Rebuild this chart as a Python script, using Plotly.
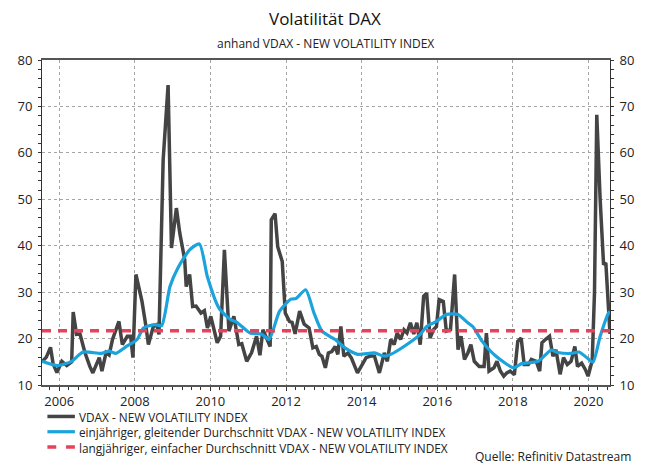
import plotly.graph_objects as go

# ---------------- data ----------------
vdax_t = [2005.545, 2005.66, 2005.77, 2005.84, 2005.94, 2006.07, 2006.20, 2006.33, 2006.37, 2006.46,
          2006.55, 2006.68, 2006.81, 2006.89, 2007.06, 2007.13, 2007.24, 2007.32, 2007.41, 2007.58,
          2007.67, 2007.80, 2007.89, 2007.95, 2008.03, 2008.15, 2008.19, 2008.28, 2008.36, 2008.49,
          2008.58, 2008.64, 2008.75, 2008.88, 2008.97, 2009.10, 2009.19, 2009.32, 2009.36, 2009.45,
          2009.53, 2009.62, 2009.75, 2009.84, 2009.92, 2010.01, 2010.10, 2010.18, 2010.27, 2010.37,
          2010.49, 2010.62, 2010.75, 2010.83, 2010.96, 2011.09, 2011.22, 2011.31, 2011.39, 2011.48,
          2011.58, 2011.61, 2011.71, 2011.78, 2011.90, 2011.98, 2012.09, 2012.16, 2012.24, 2012.36,
          2012.48, 2012.61, 2012.71, 2012.80, 2012.88, 2012.95, 2013.04, 2013.12, 2013.21, 2013.30,
          2013.37, 2013.45, 2013.53, 2013.64, 2013.73, 2013.89, 2013.99, 2014.12, 2014.25, 2014.34,
          2014.47, 2014.60, 2014.68, 2014.77, 2014.86, 2014.94, 2015.03, 2015.12, 2015.20, 2015.29,
          2015.38, 2015.46, 2015.55, 2015.64, 2015.72, 2015.81, 2015.90, 2015.98, 2016.05, 2016.16,
          2016.24, 2016.35, 2016.46, 2016.55, 2016.63, 2016.72, 2016.81, 2016.89, 2016.98, 2017.11,
          2017.24, 2017.30, 2017.37, 2017.50, 2017.58, 2017.67, 2017.76, 2017.84, 2017.93, 2018.04,
          2018.13, 2018.22, 2018.30, 2018.41, 2018.49, 2018.62, 2018.71, 2018.77, 2018.86, 2018.97,
          2019.06, 2019.14, 2019.25, 2019.34, 2019.44, 2019.54, 2019.64, 2019.71, 2019.82, 2019.92,
          2019.99, 2020.10, 2020.16, 2020.22, 2020.31, 2020.40, 2020.46, 2020.53, 2020.57]
vdax_v = [15.0, 16.0, 18.1, 14.5, 12.7, 15.1, 14.2, 15.0, 25.7, 20.9,
          21.0, 17.0, 14.0, 12.6, 15.9, 13.0, 17.0, 16.5, 19.8, 23.7,
          18.7, 20.5, 20.5, 15.9, 33.8, 29.1, 28.0, 23.4, 18.7, 22.6,
          23.0, 20.9, 58.5, 74.6, 39.5, 48.1, 42.7, 37.0, 31.2, 33.8,
          26.9, 27.0, 25.5, 26.0, 22.3, 24.8, 22.0, 19.1, 20.5, 39.1,
          21.6, 24.8, 18.7, 18.9, 15.1, 17.0, 20.5, 16.4, 21.9, 20.0,
          18.3, 45.6, 46.9, 39.8, 36.6, 25.5, 23.7, 23.5, 21.0, 25.9,
          23.1, 22.3, 18.0, 18.3, 16.6, 16.2, 13.7, 16.9, 17.2, 18.3,
          16.6, 22.6, 16.2, 16.9, 15.8, 12.6, 13.9, 15.9, 16.3, 16.2,
          12.6, 16.9, 15.1, 19.8, 18.7, 21.2, 19.8, 21.9, 21.2, 23.4,
          21.0, 23.4, 18.7, 29.1, 29.8, 20.1, 21.9, 22.6, 28.4, 28.0,
          21.6, 21.9, 33.8, 17.6, 20.5, 15.5, 16.9, 18.7, 15.1, 14.0,
          14.0, 21.2, 13.0, 13.7, 15.1, 13.0, 11.9, 12.6, 13.0, 12.2,
          19.4, 20.1, 14.4, 14.4, 15.5, 15.1, 13.0, 19.1, 19.8, 20.5,
          16.2, 17.6, 12.3, 15.9, 14.4, 15.1, 18.3, 14.0, 14.7, 13.3,
          11.9, 15.3, 30.0, 68.2, 49.9, 35.9, 36.3, 26.2, 21.0]

ma_t = [2005.545, 2005.94, 2006.33, 2006.63, 2007.11, 2007.32, 2007.50, 2007.76, 2008.06, 2008.23,
        2008.54, 2008.71, 2008.93, 2009.14, 2009.45, 2009.71, 2009.92, 2010.23, 2010.53, 2010.70,
        2011.05, 2011.35, 2011.55, 2011.83, 2012.13, 2012.26, 2012.52, 2012.74, 2012.95, 2013.30,
        2013.56, 2013.90, 2014.34, 2014.60, 2014.77, 2015.12, 2015.55, 2015.72, 2015.98, 2016.24,
        2016.55, 2016.81, 2016.94, 2017.19, 2017.54, 2018.02, 2018.23, 2018.67, 2019.01, 2019.19,
        2019.54, 2019.75, 2019.97, 2020.12, 2020.31, 2020.53, 2020.57]
ma_v = [15.1, 14.2, 15.1, 17.1, 16.8, 17.3, 16.8, 18.2, 19.8, 22.3,
        23.0, 22.8, 31.2, 35.2, 39.1, 40.4, 33.3, 26.5, 24.1, 23.5,
        21.2, 21.0, 19.8, 25.9, 28.5, 28.6, 30.5, 25.5, 21.6, 19.8,
        18.0, 16.6, 16.9, 16.2, 16.6, 18.3, 20.9, 22.6, 23.7, 25.2,
        25.2, 23.4, 22.6, 19.4, 16.3, 13.7, 14.6, 15.1, 17.5, 17.0,
        16.8, 17.1, 15.8, 14.9, 20.5, 25.5, 25.8]

longrun_avg = 21.7
x_start, x_end = 2005.545, 2020.57

year_ticks = [2006, 2008, 2010, 2012, 2014, 2016, 2018, 2020]
y_ticks = [10, 20, 30, 40, 50, 60, 70, 80]

names = ["VDAX - NEW VOLATILITY INDEX",
         "einjähriger, gleitender Durchschnitt VDAX - NEW VOLATILITY INDEX",
         "langjähriger, einfacher Durchschnitt VDAX - NEW VOLATILITY INDEX"]

# ---------------- styling ----------------
C_VDAX = "#444444"
C_MA = "#1ba3dd"
C_AVG = "#e4435b"
FONT = "Open Sans"

W, H = 646, 468
L, R, T, B = 41.5, 620, 60, 385.5


def px(x):
    return (x - L) / (R - L)


def py(y):
    return (B - y) / (B - T)


fig = go.Figure()
fig.add_trace(go.Scatter(x=vdax_t, y=vdax_v, mode="lines", name=names[0],
                         line=dict(color=C_VDAX, width=3.5), showlegend=False))
fig.add_trace(go.Scatter(x=ma_t, y=ma_v, mode="lines", name=names[1],
                         line=dict(color=C_MA, width=3.2, shape="spline", smoothing=0.6),
                         showlegend=False))
fig.add_trace(go.Scatter(x=[x_start, x_end], y=[longrun_avg, longrun_avg], mode="lines",
                         name=names[2], yaxis="y2",
                         line=dict(color=C_AVG, width=3.5, dash="9px,7px"), showlegend=False))

axis_font = dict(family=FONT, size=13, color="#222222")

fig.update_layout(
    width=W, height=H,
    margin=dict(l=L, r=W - R, t=T, b=H - B, pad=0),
    paper_bgcolor="white", plot_bgcolor="white",
    font=dict(family=FONT, color="#222222"),
    xaxis=dict(range=[x_start, x_end], tickvals=year_ticks, ticktext=[str(v) for v in year_ticks],
               ticks="outside", ticklen=4, tickcolor="#333333", tickfont=axis_font,
               showgrid=True, gridcolor="#a5a5a5", griddash="dot", gridwidth=1,
               showline=True, linecolor="#555555", linewidth=1.5, mirror=True,
               minor=dict(dtick=0.25, tick0=2006, ticks="outside", ticklen=3, tickcolor="#333333",
                          showgrid=False),
               zeroline=False),
    yaxis=dict(range=[10, 80], tickvals=y_ticks, ticks="outside", ticklen=3, tickcolor="#333333",
               tickfont=axis_font, showgrid=True, gridcolor="#a5a5a5", griddash="dot",
               showline=True, linecolor="#333333", linewidth=1, zeroline=False,
               minor=dict(dtick=2, ticks="outside", ticklen=3, tickcolor="#333333", showgrid=False),
               ticklabelstandoff=3),
    yaxis2=dict(range=[10, 80], tickvals=y_ticks, overlaying="y", side="right",
                ticks="outside", ticklen=3, tickcolor="#333333", tickfont=axis_font,
                showgrid=False, showline=True, linecolor="#333333", linewidth=1, zeroline=False,
                minor=dict(dtick=2, ticks="outside", ticklen=3, tickcolor="#333333"),
                ticklabelstandoff=3),
    showlegend=False,
)

txt_font = dict(family=FONT, size=12, color="#222222")
leg_font = dict(family=FONT, size=11.8, color="#222222")
annotations = [
    dict(text="Volatilität DAX", x=px(330), y=py(18), xref="paper", yref="paper",
         showarrow=False, font=dict(family=FONT, size=17, color="#111111", weight=500),
         xanchor="center", yanchor="middle"),
    dict(text="anhand VDAX - NEW VOLATILITY INDEX", x=px(330), y=py(43), xref="paper", yref="paper",
         showarrow=False, font=txt_font, xanchor="center", yanchor="middle"),
    dict(text="Quelle: Refinitiv Datastream", x=px(643), y=py(467.5), xref="paper", yref="paper",
         showarrow=False, font=txt_font, xanchor="right", yanchor="bottom"),
    dict(text="<br>".join(names), x=px(78), y=py(408.5), xref="paper", yref="paper",
         showarrow=False, font=leg_font, xanchor="left", yanchor="top", align="left",
         borderpad=0),
]
shapes = []
rows_y = [417, 432.3, 447.6]
for i, yy in enumerate(rows_y):
    if i == 0:
        shapes.append(dict(type="line", xref="paper", yref="paper", x0=px(47), x1=px(75),
                           y0=py(yy), y1=py(yy), line=dict(color=C_VDAX, width=3.5)))
    elif i == 1:
        shapes.append(dict(type="line", xref="paper", yref="paper", x0=px(47), x1=px(75),
                           y0=py(yy), y1=py(yy), line=dict(color=C_MA, width=3.2)))
    else:
        for a, b in [(47, 56), (66, 75)]:
            shapes.append(dict(type="line", xref="paper", yref="paper", x0=px(a), x1=px(b),
                               y0=py(yy), y1=py(yy), line=dict(color=C_AVG, width=3.5)))

fig.update_layout(annotations=annotations, shapes=shapes)
fig.write_html("out.html", config={"displayModeBar": False},
               post_script="document.body.style.margin='0';document.body.style.overflow='hidden';")
